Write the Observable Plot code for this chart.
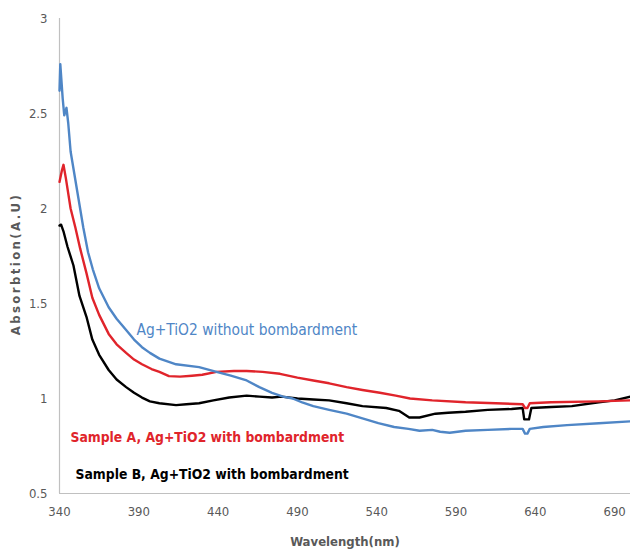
<!DOCTYPE html>
<html>
<head>
<meta charset="utf-8">
<script src="https://cdn.jsdelivr.net/npm/d3@7"></script>
<script src="https://cdn.jsdelivr.net/npm/@observablehq/plot@0.6"></script>
<style>
  html, body { margin: 0; padding: 0; background: #fff; }
  svg { display: block; }
</style>
</head>
<body>
<div id="chart"></div>
<script>
// Ag+TiO2 without bombardment (blue)
const blueWl = [340, 340.5, 342, 343, 344.4, 345.5, 347, 349, 352, 355, 358, 361, 365, 371, 376, 382, 387, 392, 397, 403, 413.5, 428, 439, 448, 458, 466, 474, 481, 487, 493, 500, 510, 521, 531, 541, 551, 560, 567, 575, 580, 586, 596, 610, 625, 632, 633.5, 635, 636.5, 645, 660, 680, 700];
const blueAbs = [2.62, 2.76, 2.58, 2.49, 2.53, 2.45, 2.30, 2.20, 2.05, 1.90, 1.77, 1.68, 1.58, 1.48, 1.42, 1.36, 1.31, 1.27, 1.24, 1.21, 1.18, 1.165, 1.14, 1.12, 1.095, 1.06, 1.03, 1.01, 1.0, 0.98, 0.96, 0.94, 0.92, 0.895, 0.87, 0.85, 0.84, 0.83, 0.835, 0.825, 0.82, 0.83, 0.835, 0.84, 0.84, 0.815, 0.815, 0.84, 0.85, 0.86, 0.87, 0.88];

// Sample A, Ag+TiO2 with bombardment (red)
const redWl = [340, 341.5, 342.5, 344, 347, 350, 353, 357, 360.7, 365, 371, 376, 382, 387, 392, 398, 403, 409, 416, 423.5, 430, 439, 450, 458, 468, 479, 490, 500, 510, 521, 531, 542, 552, 561, 575, 596, 615, 632, 633.5, 635, 636.5, 650, 680, 700];
const redAbs = [2.14, 2.20, 2.23, 2.16, 2.0, 1.90, 1.79, 1.66, 1.53, 1.44, 1.34, 1.285, 1.24, 1.205, 1.18, 1.155, 1.14, 1.118, 1.115, 1.12, 1.125, 1.14, 1.145, 1.145, 1.14, 1.13, 1.11, 1.095, 1.08, 1.06, 1.045, 1.03, 1.015, 1.0, 0.99, 0.98, 0.975, 0.97, 0.95, 0.95, 0.975, 0.98, 0.985, 0.99];

// Sample B, Ag+TiO2 with bombardment (black)
const blackWl = [340, 341, 342.5, 345, 348.8, 352.6, 357, 360.7, 365, 371, 376, 382, 387, 392, 397, 403, 413.5, 420, 428, 437, 447, 458, 466, 474, 480, 490, 500, 510, 521, 531, 546, 554, 560.5, 567, 577, 585, 596, 610, 625, 632, 633, 636, 637.5, 650, 663, 680, 690, 700];
const blackAbs = [1.91, 1.915, 1.88, 1.80, 1.70, 1.54, 1.43, 1.31, 1.23, 1.15, 1.10, 1.06, 1.03, 1.005, 0.985, 0.975, 0.965, 0.97, 0.975, 0.99, 1.005, 1.015, 1.01, 1.005, 1.01, 1.0, 0.995, 0.99, 0.975, 0.96, 0.95, 0.935, 0.90, 0.90, 0.92, 0.925, 0.93, 0.94, 0.945, 0.95, 0.89, 0.89, 0.95, 0.955, 0.96, 0.98, 0.99, 1.01];

const xTicks = [340, 390, 440, 490, 540, 590, 640, 690];
const yTicks = [0.5, 1, 1.5, 2, 2.5, 3];

const seriesNames = ["Ag+TiO2 without bombardment", "Sample A, Ag+TiO2 with bombardment", "Sample B, Ag+TiO2 with bombardment"];
const labelWl = [388.5, 346.9, 350.1];
const labelAbs = [1.358, 0.795, 0.600];

const xTitle = "Wavelength(nm)";
const yTitle = "Absorbtion(A.U)";

const colors = ["#4f86c6", "#e0242b", "#000000"];

const toRows = (wl, ab) => wl.map((w, i) => ({wl: w, abs: ab[i]}));
const blue = toRows(blueWl, blueAbs);
const red = toRows(redWl, redAbs);
const black = toRows(blackWl, blackAbs);
const labels = seriesNames.map((name, i) => ({name, wl: labelWl[i], abs: labelAbs[i], color: colors[i]}));

const font = "'Liberation Sans Narrow', 'DejaVu Sans Condensed', 'Roboto Condensed', sans-serif";

const chart = Plot.plot({
  width: 630,
  height: 551,
  marginLeft: 59,
  marginRight: 0,
  marginTop: 18,
  marginBottom: 58,
  style: {fontFamily: font, fontSize: "13px", color: "#595959", background: "#fff", overflow: "visible"},
  x: {domain: [340, 700], ticks: xTicks, tickSize: 0, tickPadding: 13, label: null, tickFormat: d => String(d)},
  y: {domain: [0.5, 3], ticks: yTicks, tickSize: 0, tickPadding: 12, label: null, tickFormat: d => String(d)},
  marks: [
    Plot.ruleY([0.5], {stroke: "#c0c0c0", strokeWidth: 1.2}),
    Plot.ruleX([340], {stroke: "#c0c0c0", strokeWidth: 1.2}),
    Plot.line(black, {x: "wl", y: "abs", stroke: colors[2], strokeWidth: 2.4, curve: "linear"}),
    Plot.line(red, {x: "wl", y: "abs", stroke: colors[1], strokeWidth: 2.4, curve: "linear"}),
    Plot.line(blue, {x: "wl", y: "abs", stroke: colors[0], strokeWidth: 2.4, curve: "linear"}),
    Plot.text(labels.filter((d, i) => i === 0), {x: "wl", y: "abs", text: "name", fill: d => d.color, textAnchor: "start", fontSize: 15.4, fontWeight: "normal"}),
    Plot.text(labels.filter((d, i) => i > 0), {x: "wl", y: "abs", text: "name", fill: d => d.color, textAnchor: "start", fontSize: 13.8, fontWeight: "bold"}),
    Plot.text([xTitle], {frameAnchor: "bottom", lineAnchor: "middle", textAnchor: "middle", dy: 48, fill: "#595959", fontSize: 13, fontWeight: "bold"}),
    Plot.text([yTitle], {frameAnchor: "left", textAnchor: "middle", lineAnchor: "middle", dx: -44, dy: 8, rotate: -90, fill: "#595959", fontSize: 13, fontWeight: "bold", fontFamily: "'DejaVu Sans Condensed', sans-serif"})
  ]
});
chart.querySelectorAll("text").forEach(t => {
  if (t.textContent === yTitle) t.setAttribute("letter-spacing", "2.4");
});
document.getElementById("chart").appendChild(chart);
</script>
</body>
</html>
